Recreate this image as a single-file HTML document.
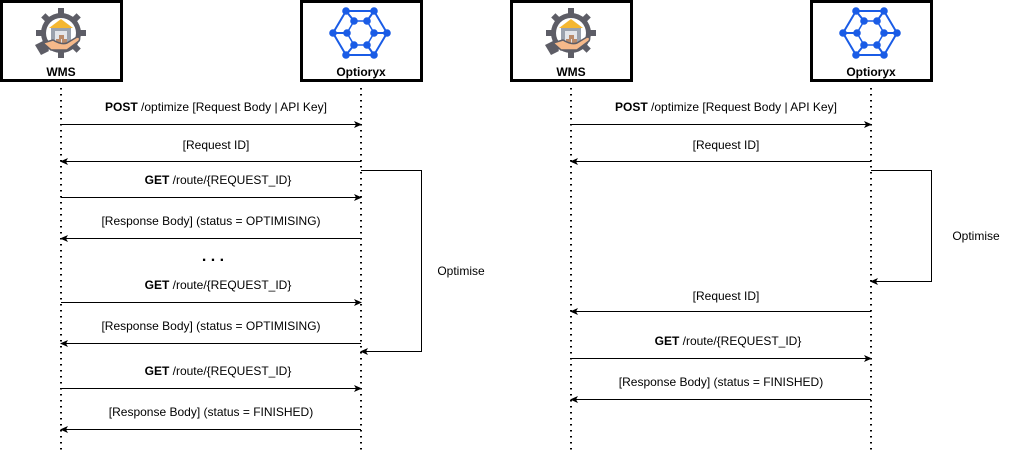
<!DOCTYPE html>
<html><head><meta charset="utf-8"><style>
html,body{margin:0;padding:0;background:#fff;}
svg{display:block;font-family:"Liberation Sans",sans-serif;font-size:12px;}
</style></head><body>
<svg width="1012" height="454" viewBox="0 0 1012 454" xmlns="http://www.w3.org/2000/svg">
<defs>
<marker id="ah" markerWidth="8" markerHeight="8" refX="7" refY="4" orient="auto" markerUnits="userSpaceOnUse">
<path d="M0,0.5 L8,4 L0,7.5 L2,4 Z" fill="#000"/></marker>
<g id="wms">
<circle cx="0" cy="0" r="20" fill="#5d5d66"/>
<g fill="#5d5d66"><rect x="-3" y="-25" width="6" height="8"/><rect x="-3" y="17" width="6" height="8"/><rect x="-25" y="-3" width="8" height="6"/><rect x="17" y="-3" width="8" height="6"/>
<rect x="-3" y="-25" width="6" height="8" transform="rotate(45)"/><rect x="-3" y="-25" width="6" height="8" transform="rotate(-45)"/><rect x="-3" y="-25" width="6" height="8" transform="rotate(135)"/><rect x="-3" y="-25" width="6" height="8" transform="rotate(-135)"/></g>
<circle cx="0" cy="0" r="15" fill="#fff"/>
<path d="M-12,-5 L0,-14 L12,-5 Z" fill="#f5b731"/>
<rect x="-10" y="-5" width="20" height="16" fill="#9aa1ad"/>
<rect x="-6" y="-2" width="12" height="13" fill="#e3e5ea"/>
<rect x="-2" y="2" width="5" height="4" fill="#b98a6a"/><rect x="-5" y="6" width="5" height="5" fill="#b98a6a"/><rect x="1" y="6" width="5" height="5" fill="#b98a6a"/>
<path d="M-18,10 L-8,7 Q0,12 6,10 L16,4 Q20,4 18,8 L6,17 L-10,17 Z" fill="#f6b98a" stroke="#5d5d66" stroke-width="1.5"/>
<path d="M-26,12 L-18,8 L-12,18 L-20,22 Z" fill="#5d5d66"/>
</g>
<g id="opt" stroke="#1a5ce6" stroke-width="2" fill="none">
<path d="M-14,-22 L14,-22 L27,0 L14,22 L-14,22 L-27,0 Z"/>
<path d="M-6,-12 L7,-12 L14,0 L7,12 L-6,12 L-13,0 Z" stroke-width="1.5"/>
<path d="M-14,-22 L-6,-12 M14,-22 L7,-12 M27,0 L14,0 M14,22 L7,12 M-14,22 L-6,12 M-27,0 L-13,0"/>
<g fill="#1a5ce6" stroke="none">
<circle cx="-14" cy="-22" r="3.8"/><circle cx="14" cy="-22" r="3.8"/><circle cx="27" cy="0" r="3.8"/><circle cx="14" cy="22" r="3.8"/><circle cx="-14" cy="22" r="3.8"/><circle cx="-27" cy="0" r="3.8"/>
<circle cx="-6" cy="-12" r="3.8"/><circle cx="7" cy="-12" r="3.8"/><circle cx="14" cy="0" r="3.8"/><circle cx="7" cy="12" r="3.8"/><circle cx="-6" cy="12" r="3.8"/><circle cx="-13" cy="0" r="3.8"/>
</g></g>
</defs>

<g fill="#fff" stroke="#000" stroke-width="3">
<rect x="1.5" y="1.5" width="120" height="79"/><rect x="301.5" y="1.5" width="120" height="79"/>
<rect x="511.5" y="1.5" width="120" height="79"/><rect x="811.5" y="1.5" width="120" height="79"/>
</g>
<use href="#wms" x="61" y="33"/><use href="#wms" x="571" y="33"/>
<use href="#opt" x="360" y="33"/><use href="#opt" x="870" y="33"/>
<g font-weight="bold" text-anchor="middle">
<text x="61" y="76">WMS</text><text x="361" y="76">Optioryx</text>
<text x="571" y="76">WMS</text><text x="871" y="76">Optioryx</text>
</g>

<g stroke="#000" stroke-width="2" stroke-dasharray="1.5,4.5">
<line x1="61" y1="88" x2="61" y2="454"/><line x1="361" y1="88" x2="361" y2="454"/>
<line x1="571" y1="88" x2="571" y2="454"/><line x1="871" y1="88" x2="871" y2="454"/>
</g>

<g stroke="#000" stroke-width="1" fill="none" marker-end="url(#ah)">
<line x1="61" y1="124.5" x2="361" y2="124.5"/>
<line x1="361" y1="161.5" x2="61" y2="161.5"/>
<line x1="61" y1="197.5" x2="361" y2="197.5"/>
<line x1="361" y1="238.5" x2="61" y2="238.5"/>
<line x1="61" y1="302.5" x2="361" y2="302.5"/>
<line x1="361" y1="343.5" x2="61" y2="343.5"/>
<line x1="61" y1="388.5" x2="361" y2="388.5"/>
<line x1="361" y1="429.5" x2="61" y2="429.5"/>
<path d="M361,170.5 H421.5 V351.5 H361"/>
<line x1="571" y1="124.5" x2="871" y2="124.5"/>
<line x1="871" y1="161.5" x2="571" y2="161.5"/>
<path d="M871,170.5 H931.5 V281.5 H871"/>
<line x1="871" y1="311.5" x2="571" y2="311.5"/>
<line x1="571" y1="358.5" x2="871" y2="358.5"/>
<line x1="871" y1="399.5" x2="571" y2="399.5"/>
</g>

<g text-anchor="middle">
<text x="216" y="111"><tspan font-weight="bold">POST</tspan> /optimize [Request Body | API Key]</text>
<text x="216" y="149">[Request ID]</text>
<text x="218" y="184"><tspan font-weight="bold">GET</tspan> /route/{REQUEST_ID}</text>
<text x="211" y="225">[Response Body] (status = OPTIMISING)</text>
<text x="213" y="261" font-weight="bold" font-size="16">. . .</text>
<text x="218" y="289"><tspan font-weight="bold">GET</tspan> /route/{REQUEST_ID}</text>
<text x="211" y="330">[Response Body] (status = OPTIMISING)</text>
<text x="218" y="375"><tspan font-weight="bold">GET</tspan> /route/{REQUEST_ID}</text>
<text x="211" y="416">[Response Body] (status = FINISHED)</text>
<text x="461" y="275">Optimise</text>
<text x="726" y="111"><tspan font-weight="bold">POST</tspan> /optimize [Request Body | API Key]</text>
<text x="726" y="149">[Request ID]</text>
<text x="976" y="240">Optimise</text>
<text x="726" y="300">[Request ID]</text>
<text x="728" y="345"><tspan font-weight="bold">GET</tspan> /route/{REQUEST_ID}</text>
<text x="721" y="386">[Response Body] (status = FINISHED)</text>
</g>
</svg>
</body></html>
